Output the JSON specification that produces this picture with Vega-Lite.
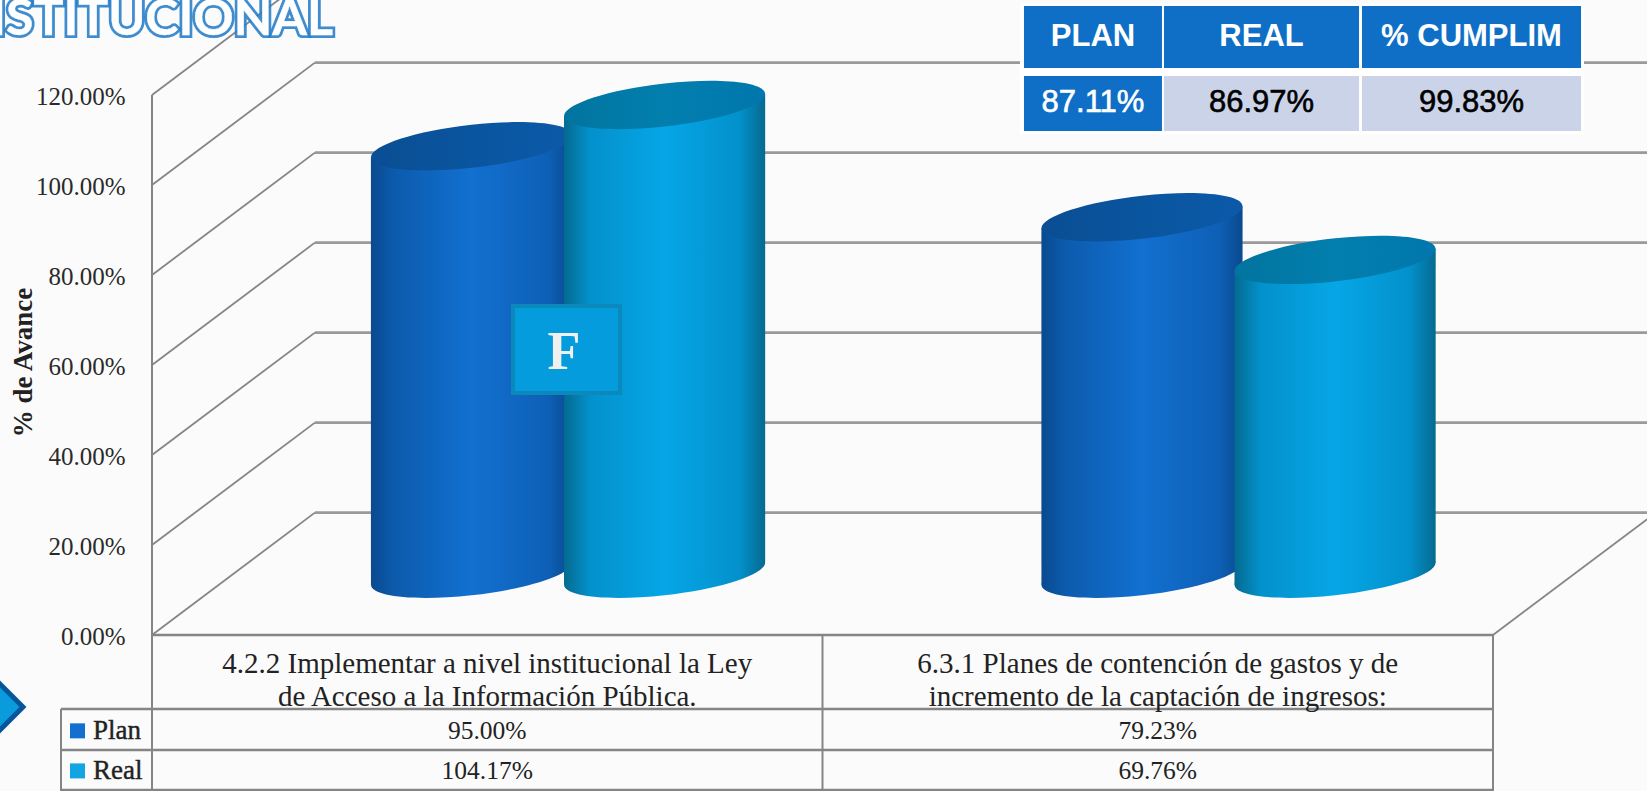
{
  "$schema": "https://vega.github.io/schema/vega-lite/v6.json",
  "width": 1647,
  "height": 791,
  "padding": 0,
  "autosize": {"type": "none"},
  "background": "#fbfbfb",
  "view": {"stroke": null},
  "config": {"text": {"font": "Liberation Serif"}},
  "resolve": {"axis": {"x": "independent", "y": "independent"}},
  "datasets": {
    "avance": [
      {"objetivo": "4.2.2 Implementar a nivel institucional la Ley\nde Acceso a la Información Pública.", "idx": 0, "serie": "Plan", "valor": 95.0},
      {"objetivo": "4.2.2 Implementar a nivel institucional la Ley\nde Acceso a la Información Pública.", "idx": 0, "serie": "Real", "valor": 104.17},
      {"objetivo": "6.3.1 Planes de contención de gastos y de\nincremento de la captación de ingresos:", "idx": 1, "serie": "Plan", "valor": 79.23},
      {"objetivo": "6.3.1 Planes de contención de gastos y de\nincremento de la captación de ingresos:", "idx": 1, "serie": "Real", "valor": 69.76}
    ],
    "niveles": [{"nivel": 0}, {"nivel": 20}, {"nivel": 40}, {"nivel": 60}, {"nivel": 80}, {"nivel": 100}, {"nivel": 120}],
    "filas": [{"linea": "base"}, {"linea": "encabezado"}, {"linea": "plan"}, {"linea": "real"}],
    "columnas": [{"columna": "leyenda"}, {"columna": "eje"}, {"columna": "medio"}, {"columna": "fin"}],
    "series": [{"serie": "Plan"}, {"serie": "Real"}],
    "resumen": [
      {"columna": "PLAN", "orden": 0, "valor": 87.11},
      {"columna": "REAL", "orden": 1, "valor": 86.97},
      {"columna": "% CUMPLIM", "orden": 2, "valor": 99.83}
    ],
    "titulo": [{"texto": "INSTITUCIONAL"}],
    "semaforo": [{"letra": "F"}]
  },
  "layer": [
    {
      "data": {"name": "niveles"},
      "transform": [
        {"filter": "datum.nivel <= 100"},
        {"calculate": "datum.nivel + 27.2", "as": "yFondo"},
        {"calculate": "0.243", "as": "xIni"},
        {"calculate": "2.24", "as": "xFin"}
      ],
      "mark": {"type": "rule", "color": "#9a9a9a", "strokeWidth": 2.6},
      "encoding": {
        "x": {"field": "xIni", "type": "quantitative", "title": null, "axis": null, "scale": {"domain": [-0.2267, 2.2297], "nice": false, "zero": false}},
        "x2": {"field": "xFin"},
        "y": {
          "field": "yFondo",
          "type": "quantitative",
          "title": "% de Avance",
          "scale": {"domain": [-34.667, 141.111], "nice": false, "zero": false},
          "axis": {
            "values": [0, 20, 40, 60, 80, 100, 120],
            "labelExpr": "format(datum.value, '.2f') + '%'",
            "offset": -125,
            "domain": false,
            "ticks": false,
            "grid": false,
            "labelPadding": 0,
            "labelOffset": 1.5,
            "labelFont": "Liberation Serif",
            "labelFontSize": 25,
            "labelColor": "#2a2a2a",
            "titleFont": "Liberation Serif",
            "titleFontSize": 27,
            "titleFontWeight": "bold",
            "titleColor": "#222222",
            "titleAngle": -90,
            "titleAlign": "center",
            "titleBaseline": "middle",
            "titleX": -102,
            "titleY": 362
          }
        }
      }
    },
    {
      "data": {"name": "niveles"},
      "transform": [
        {"calculate": "datum.nivel + 27.2", "as": "yFondo"},
        {"calculate": "0", "as": "xIni"},
        {"calculate": "0.243", "as": "xFin"}
      ],
      "mark": {"type": "rule", "color": "#858585", "strokeWidth": 1.8},
      "encoding": {
        "x": {"field": "xIni", "type": "quantitative", "axis": null},
        "x2": {"field": "xFin"},
        "y": {"field": "nivel", "type": "quantitative", "axis": null},
        "y2": {"field": "yFondo"}
      }
    },
    {
      "data": {"name": "niveles"},
      "transform": [
        {"filter": "datum.nivel == 0"},
        {"calculate": "datum.nivel + 27.2", "as": "yFondo"},
        {"calculate": "2", "as": "xIni"},
        {"calculate": "2.243", "as": "xFin"}
      ],
      "mark": {"type": "rule", "color": "#858585", "strokeWidth": 1.8},
      "encoding": {
        "x": {"field": "xIni", "type": "quantitative", "axis": null},
        "x2": {"field": "xFin"},
        "y": {"field": "nivel", "type": "quantitative", "axis": null},
        "y2": {"field": "yFondo"}
      }
    },
    {
      "data": {"name": "filas"},
      "transform": [
        {"calculate": "{'base': 0, 'encabezado': -16.44, 'plan': -25.56, 'real': -34.44}[datum.linea]", "as": "yLinea"},
        {"calculate": "datum.linea == 'base' ? 0 : -0.1357", "as": "xIni"},
        {"calculate": "2", "as": "xFin"}
      ],
      "mark": {"type": "rule", "color": "#858585", "strokeWidth": 2.6},
      "encoding": {
        "x": {"field": "xIni", "type": "quantitative", "axis": null},
        "x2": {"field": "xFin"},
        "y": {"field": "yLinea", "type": "quantitative", "axis": null}
      }
    },
    {
      "data": {"name": "columnas"},
      "transform": [
        {"calculate": "{'leyenda': -0.1357, 'eje': 0, 'medio': 1, 'fin': 2}[datum.columna]", "as": "xLinea"},
        {"calculate": "{'leyenda': -16.44, 'eje': 120, 'medio': 0, 'fin': 0}[datum.columna]", "as": "yIni"},
        {"calculate": "-34.667", "as": "yFin"}
      ],
      "mark": {"type": "rule", "color": "#858585", "strokeWidth": 2},
      "encoding": {
        "x": {"field": "xLinea", "type": "quantitative", "axis": null},
        "y": {"field": "yIni", "type": "quantitative", "axis": null},
        "y2": {"field": "yFin"}
      }
    },
    {
      "data": {"name": "titulo"},
      "transform": [{"calculate": "0.2698", "as": "xTexto"}, {"calculate": "133.3", "as": "yTexto"}],
      "mark": {"type": "text", "font": "Lato", "fontWeight": "bold", "fontSize": 50, "align": "right", "baseline": "alphabetic", "fill": "#2a7fc9", "stroke": "#2a7fc9", "strokeWidth": 6, "strokeOpacity": 0.9},
      "encoding": {
        "x": {"field": "xTexto", "type": "quantitative", "axis": null},
        "y": {"field": "yTexto", "type": "quantitative", "axis": null},
        "text": {"field": "texto"}
      }
    },
    {
      "data": {"name": "titulo"},
      "transform": [{"calculate": "0.2698", "as": "xTexto"}, {"calculate": "133.3", "as": "yTexto"}],
      "mark": {"type": "text", "font": "Lato", "fontWeight": "bold", "fontSize": 50, "align": "right", "baseline": "alphabetic", "fill": "#ffffff", "stroke": "#ffffff", "strokeWidth": 0.4},
      "encoding": {
        "x": {"field": "xTexto", "type": "quantitative", "axis": null},
        "y": {"field": "yTexto", "type": "quantitative", "axis": null},
        "text": {"field": "texto"}
      }
    },
    {
      "data": {"name": "avance"},
      "transform": [
        {"filter": "datum.serie == 'Plan'"},
        {"calculate": "datum.idx + 0.6215 - 0.145", "as": "cx"},
        {"calculate": "13.6", "as": "yBase"}
      ],
      "mark": {
        "type": "point", "filled": true, "opacity": 1, "size": 40401,
        "shape": "M-1 0.11C-1 -0.0082 -0.5523 -0.1532 0 -0.214C0.5523 -0.2748 1 -0.2282 1 -0.11C1 0.0082 0.5523 0.1532 0 0.214C-0.5523 0.2748 -1 0.2282 -1 0.11Z",
        "fill": {"gradient": "linear", "x1": 0, "y1": 0, "x2": 1, "y2": 0, "stops": [{"offset": 0, "color": "#0a4a90"}, {"offset": 0.12, "color": "#0c5bad"}, {"offset": 0.5, "color": "#1270d0"}, {"offset": 0.88, "color": "#0e60b6"}, {"offset": 1, "color": "#094a90"}]}
      },
      "encoding": {
        "x": {"field": "cx", "type": "quantitative", "axis": null},
        "y": {"field": "yBase", "type": "quantitative", "axis": null}
      }
    },
    {
      "data": {"name": "avance"},
      "transform": [
        {"filter": "datum.serie == 'Plan'"},
        {"calculate": "[-1, 1]", "as": "lado"},
        {"flatten": ["lado"]},
        {"calculate": "datum.idx + 0.6215 - 0.145 + datum.lado * 0.15", "as": "xBorde"},
        {"calculate": "datum.valor + 13.6 + datum.lado * 2.45", "as": "yTope"},
        {"calculate": "13.6 + datum.lado * 2.45", "as": "yPie"}
      ],
      "mark": {
        "type": "area", "orient": "vertical", "opacity": 1,
        "fill": {"gradient": "linear", "x1": 0, "y1": 0, "x2": 1, "y2": 0, "stops": [{"offset": 0, "color": "#0a4a90"}, {"offset": 0.12, "color": "#0c5bad"}, {"offset": 0.5, "color": "#1270d0"}, {"offset": 0.88, "color": "#0e60b6"}, {"offset": 1, "color": "#094a90"}]}
      },
      "encoding": {
        "x": {"field": "xBorde", "type": "quantitative", "axis": null},
        "y": {"field": "yTope", "type": "quantitative", "axis": null, "stack": null},
        "y2": {"field": "yPie"},
        "detail": {"field": "idx"}
      }
    },
    {
      "data": {"name": "avance"},
      "transform": [
        {"filter": "datum.serie == 'Plan'"},
        {"calculate": "datum.idx + 0.6215 - 0.145", "as": "cx"},
        {"calculate": "datum.valor + 13.6", "as": "yTope"}
      ],
      "mark": {
        "type": "point", "filled": true, "opacity": 1, "size": 40401,
        "shape": "M-1 0.11C-1 -0.0082 -0.5523 -0.1532 0 -0.214C0.5523 -0.2748 1 -0.2282 1 -0.11C1 0.0082 0.5523 0.1532 0 0.214C-0.5523 0.2748 -1 0.2282 -1 0.11Z",
        "fill": {"gradient": "linear", "x1": 0, "y1": 0, "x2": 1, "y2": 0, "stops": [{"offset": 0, "color": "#0a4e94"}, {"offset": 0.5, "color": "#0a559f"}, {"offset": 1, "color": "#0b59a8"}]}
      },
      "encoding": {
        "x": {"field": "cx", "type": "quantitative", "axis": null},
        "y": {"field": "yTope", "type": "quantitative", "axis": null}
      }
    },
    {
      "data": {"name": "avance"},
      "transform": [
        {"filter": "datum.serie == 'Real'"},
        {"calculate": "datum.idx + 0.6215 + 0.143", "as": "cx"},
        {"calculate": "13.6", "as": "yBase"}
      ],
      "mark": {
        "type": "point", "filled": true, "opacity": 1, "size": 40401,
        "shape": "M-1 0.11C-1 -0.0082 -0.5523 -0.1532 0 -0.214C0.5523 -0.2748 1 -0.2282 1 -0.11C1 0.0082 0.5523 0.1532 0 0.214C-0.5523 0.2748 -1 0.2282 -1 0.11Z",
        "fill": {"gradient": "linear", "x1": 0, "y1": 0, "x2": 1, "y2": 0, "stops": [{"offset": 0, "color": "#056a90"}, {"offset": 0.13, "color": "#0391cc"}, {"offset": 0.5, "color": "#06a6e6"}, {"offset": 0.87, "color": "#0391cc"}, {"offset": 1, "color": "#056a90"}]}
      },
      "encoding": {
        "x": {"field": "cx", "type": "quantitative", "axis": null},
        "y": {"field": "yBase", "type": "quantitative", "axis": null}
      }
    },
    {
      "data": {"name": "avance"},
      "transform": [
        {"filter": "datum.serie == 'Real'"},
        {"calculate": "[-1, 1]", "as": "lado"},
        {"flatten": ["lado"]},
        {"calculate": "datum.idx + 0.6215 + 0.143 + datum.lado * 0.15", "as": "xBorde"},
        {"calculate": "datum.valor + 13.6 + datum.lado * 2.45", "as": "yTope"},
        {"calculate": "13.6 + datum.lado * 2.45", "as": "yPie"}
      ],
      "mark": {
        "type": "area", "orient": "vertical", "opacity": 1,
        "fill": {"gradient": "linear", "x1": 0, "y1": 0, "x2": 1, "y2": 0, "stops": [{"offset": 0, "color": "#056a90"}, {"offset": 0.13, "color": "#0391cc"}, {"offset": 0.5, "color": "#06a6e6"}, {"offset": 0.87, "color": "#0391cc"}, {"offset": 1, "color": "#056a90"}]}
      },
      "encoding": {
        "x": {"field": "xBorde", "type": "quantitative", "axis": null},
        "y": {"field": "yTope", "type": "quantitative", "axis": null, "stack": null},
        "y2": {"field": "yPie"},
        "detail": {"field": "idx"}
      }
    },
    {
      "data": {"name": "avance"},
      "transform": [
        {"filter": "datum.serie == 'Real'"},
        {"calculate": "datum.idx + 0.6215 + 0.143", "as": "cx"},
        {"calculate": "datum.valor + 13.6", "as": "yTope"}
      ],
      "mark": {
        "type": "point", "filled": true, "opacity": 1, "size": 40401,
        "shape": "M-1 0.11C-1 -0.0082 -0.5523 -0.1532 0 -0.214C0.5523 -0.2748 1 -0.2282 1 -0.11C1 0.0082 0.5523 0.1532 0 0.214C-0.5523 0.2748 -1 0.2282 -1 0.11Z",
        "fill": {"gradient": "linear", "x1": 0, "y1": 0, "x2": 1, "y2": 0, "stops": [{"offset": 0, "color": "#02749f"}, {"offset": 0.5, "color": "#027fae"}, {"offset": 1, "color": "#0177ad"}]}
      },
      "encoding": {
        "x": {"field": "cx", "type": "quantitative", "axis": null},
        "y": {"field": "yTope", "type": "quantitative", "axis": null}
      }
    },
    {
      "data": {"name": "semaforo"},
      "transform": [
        {"calculate": "0.5383", "as": "x0"},
        {"calculate": "0.6979", "as": "x1"},
        {"calculate": "73.1", "as": "y0"},
        {"calculate": "53.8", "as": "y1"}
      ],
      "mark": {"type": "rect", "fill": "#049cdd", "stroke": "#0b88bc", "strokeWidth": 4},
      "encoding": {
        "x": {"field": "x0", "type": "quantitative", "axis": null},
        "x2": {"field": "x1"},
        "y": {"field": "y0", "type": "quantitative", "axis": null},
        "y2": {"field": "y1"}
      }
    },
    {
      "data": {"name": "semaforo"},
      "transform": [{"calculate": "0.6145", "as": "xTexto"}, {"calculate": "62.6", "as": "yTexto"}],
      "mark": {"type": "text", "font": "Liberation Serif", "fontWeight": "bold", "fontSize": 54, "align": "center", "baseline": "middle", "fill": "#f0f0f0"},
      "encoding": {
        "x": {"field": "xTexto", "type": "quantitative", "axis": null},
        "y": {"field": "yTexto", "type": "quantitative", "axis": null},
        "text": {"field": "letra"}
      }
    },
    {
      "data": {"name": "avance"},
      "transform": [
        {"filter": "datum.serie == 'Plan'"},
        {"calculate": "datum.idx + 0.5", "as": "xCelda"},
        {"calculate": "-6.4", "as": "yCelda"}
      ],
      "mark": {"type": "text", "font": "Liberation Serif", "fontSize": 29, "lineHeight": 33, "lineBreak": "\n", "align": "center", "baseline": "middle", "fill": "#222222"},
      "encoding": {
        "x": {"field": "xCelda", "type": "quantitative", "axis": null},
        "y": {"field": "yCelda", "type": "quantitative", "axis": null},
        "text": {"field": "objetivo"}
      }
    },
    {
      "data": {"name": "avance"},
      "transform": [
        {"calculate": "datum.idx + 0.5", "as": "xCelda"},
        {"calculate": "datum.serie == 'Plan' ? -21.3 : -30.2", "as": "yCelda"},
        {"calculate": "format(datum.valor, '.2f') + '%'", "as": "etiqueta"}
      ],
      "mark": {"type": "text", "font": "Liberation Serif", "fontSize": 25.5, "align": "center", "baseline": "middle", "fill": "#222222"},
      "encoding": {
        "x": {"field": "xCelda", "type": "quantitative", "axis": null},
        "y": {"field": "yCelda", "type": "quantitative", "axis": null},
        "text": {"field": "etiqueta"}
      }
    },
    {
      "data": {"name": "series"},
      "transform": [
        {"calculate": "-0.1111", "as": "xMuestra"},
        {"calculate": "datum.serie == 'Plan' ? -21.3 : -30.2", "as": "yFila"}
      ],
      "mark": {"type": "point", "shape": "square", "filled": true, "opacity": 1, "size": 225},
      "encoding": {
        "x": {"field": "xMuestra", "type": "quantitative", "axis": null},
        "y": {"field": "yFila", "type": "quantitative", "axis": null},
        "color": {"field": "serie", "type": "nominal", "legend": null, "scale": {"domain": ["Plan", "Real"], "range": ["#1470cf", "#12a5e1"]}}
      }
    },
    {
      "data": {"name": "series"},
      "transform": [
        {"calculate": "-0.088", "as": "xTexto"},
        {"calculate": "datum.serie == 'Plan' ? -21.3 : -30.2", "as": "yFila"}
      ],
      "mark": {"type": "text", "font": "Liberation Serif", "fontSize": 27, "align": "left", "baseline": "middle", "fill": "#222222", "stroke": "#222222", "strokeWidth": 0.4},
      "encoding": {
        "x": {"field": "xTexto", "type": "quantitative", "axis": null},
        "y": {"field": "yFila", "type": "quantitative", "axis": null},
        "text": {"field": "serie"}
      }
    },
    {
      "data": {"name": "semaforo"},
      "transform": [
        {"calculate": "-0.2417", "as": "xCentro"},
        {"calculate": "-16", "as": "yCentro"}
      ],
      "mark": {"type": "point", "shape": "diamond", "filled": true, "opacity": 1, "size": 4356, "fill": "#0a9bdc", "stroke": "#05559a", "strokeWidth": 5, "strokeOpacity": 1},
      "encoding": {
        "x": {"field": "xCentro", "type": "quantitative", "axis": null},
        "y": {"field": "yCentro", "type": "quantitative", "axis": null}
      }
    },
    {
      "data": {"name": "semaforo"},
      "transform": [
        {"calculate": "1.2946", "as": "x0"},
        {"calculate": "2.1357", "as": "x1"},
        {"calculate": "140.4", "as": "y0"},
        {"calculate": "111.3", "as": "y1"}
      ],
      "mark": {"type": "rect", "fill": "#ffffff"},
      "encoding": {
        "x": {"field": "x0", "type": "quantitative", "axis": null},
        "x2": {"field": "x1"},
        "y": {"field": "y0", "type": "quantitative", "axis": null},
        "y2": {"field": "y1"}
      }
    },
    {
      "data": {"name": "resumen"},
      "transform": [
        {"calculate": "[1.3005, 1.5093, 1.8046][datum.orden]", "as": "x0"},
        {"calculate": "[1.5063, 1.8002, 2.1313][datum.orden]", "as": "x1"},
        {"calculate": "139.8", "as": "y0"},
        {"calculate": "126", "as": "y1"}
      ],
      "mark": {"type": "rect", "fill": "#0f6fc6"},
      "encoding": {
        "x": {"field": "x0", "type": "quantitative", "axis": null},
        "x2": {"field": "x1"},
        "y": {"field": "y0", "type": "quantitative", "axis": null},
        "y2": {"field": "y1"}
      }
    },
    {
      "data": {"name": "resumen"},
      "transform": [
        {"calculate": "[1.3005, 1.5093, 1.8046][datum.orden]", "as": "x0"},
        {"calculate": "[1.5063, 1.8002, 2.1313][datum.orden]", "as": "x1"},
        {"calculate": "124.2", "as": "y0"},
        {"calculate": "112", "as": "y1"}
      ],
      "mark": {"type": "rect"},
      "encoding": {
        "x": {"field": "x0", "type": "quantitative", "axis": null},
        "x2": {"field": "x1"},
        "y": {"field": "y0", "type": "quantitative", "axis": null},
        "y2": {"field": "y1"},
        "fill": {"condition": {"test": "datum.orden == 0", "value": "#0f6fc6"}, "value": "#cbd3e8"}
      }
    },
    {
      "data": {"name": "resumen"},
      "transform": [
        {"calculate": "([1.3005, 1.5093, 1.8046][datum.orden] + [1.5063, 1.8002, 2.1313][datum.orden]) / 2", "as": "xTexto"},
        {"calculate": "132.8", "as": "yTexto"}
      ],
      "mark": {"type": "text", "font": "Liberation Sans", "fontWeight": "bold", "fontSize": 31, "align": "center", "baseline": "middle", "fill": "#ffffff"},
      "encoding": {
        "x": {"field": "xTexto", "type": "quantitative", "axis": null},
        "y": {"field": "yTexto", "type": "quantitative", "axis": null},
        "text": {"field": "columna"}
      }
    },
    {
      "data": {"name": "resumen"},
      "transform": [
        {"calculate": "([1.3005, 1.5093, 1.8046][datum.orden] + [1.5063, 1.8002, 2.1313][datum.orden]) / 2", "as": "xTexto"},
        {"calculate": "118.2", "as": "yTexto"},
        {"calculate": "format(datum.valor, '.2f') + '%'", "as": "etiqueta"}
      ],
      "mark": {"type": "text", "font": "Liberation Sans", "fontSize": 31, "align": "center", "baseline": "middle", "strokeWidth": 0.6},
      "encoding": {
        "x": {"field": "xTexto", "type": "quantitative", "axis": null},
        "y": {"field": "yTexto", "type": "quantitative", "axis": null},
        "text": {"field": "etiqueta"},
        "fill": {"condition": {"test": "datum.orden == 0", "value": "#ffffff"}, "value": "#000000"},
        "stroke": {"condition": {"test": "datum.orden == 0", "value": "#ffffff"}, "value": "#000000"}
      }
    }
  ]
}
